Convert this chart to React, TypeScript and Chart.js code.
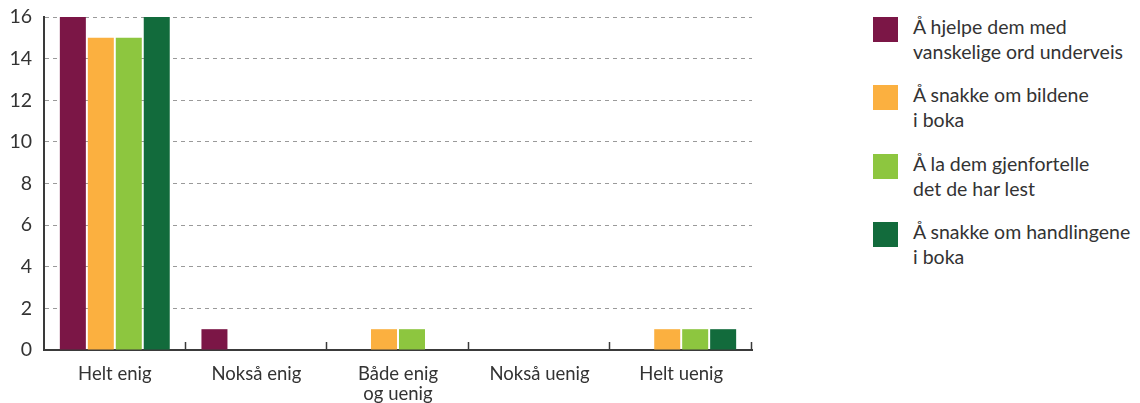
import React, { useEffect, useRef } from "react";
import { Chart, registerables } from "chart.js";

Chart.register(...registerables);

const categories: (string | string[])[] = [
  "Helt enig",
  "Nokså enig",
  ["Både enig", "og uenig"],
  "Nokså uenig",
  "Helt uenig",
];
const seriesNames: string[] = [
  "Å hjelpe dem med\nvanskelige ord underveis",
  "Å snakke om bildene\ni boka",
  "Å la dem gjenfortelle\ndet de har lest",
  "Å snakke om handlingene\ni boka",
];
const hjelpeOrd: number[] = [16, 1, 0, 0, 0];
const snakkeBilder: number[] = [15, 0, 1, 0, 1];
const gjenfortelle: number[] = [15, 0, 1, 0, 1];
const snakkeHandling: number[] = [16, 0, 0, 0, 1];
const seriesColors: string[] = ["#7B1646", "#FBB040", "#8DC63F", "#126B3C"];
const yTicks: number[] = [0, 2, 4, 6, 8, 10, 12, 14, 16];

const FONT = "Lato";
const TEXT = "#333333";
const FS = 19.5;

const innerTicks = {
  id: "innerTicks",
  afterDraw(chart: any) {
    const x = chart.scales.x;
    const ctx = chart.ctx;
    const n = categories.length;
    const w = (x.right - x.left) / n;
    ctx.save();
    ctx.strokeStyle = "#3a3a3a";
    ctx.lineWidth = 1.5;
    for (let i = 1; i <= n; i++) {
      const px = Math.round(x.left + i * w) - 0.5;
      ctx.beginPath();
      ctx.moveTo(px, x.top);
      ctx.lineTo(px, x.top - 8);
      ctx.stroke();
    }
    ctx.restore();
  },
};

export default function App() {
  const ref = useRef<HTMLCanvasElement | null>(null);
  useEffect(() => {
    if (!ref.current) return;
    const data = [hjelpeOrd, snakkeBilder, gjenfortelle, snakkeHandling];
    const chart = new Chart(ref.current, {
      type: "bar",
      data: {
        labels: categories,
        datasets: data.map((d, i) => ({
          label: seriesNames[i],
          data: d,
          backgroundColor: seriesColors[i],
          borderWidth: 0,
          categoryPercentage: 0.79,
          barPercentage: 0.93,
        })),
      },
      plugins: [innerTicks],
      options: {
        animation: false,
        responsive: false,
        maintainAspectRatio: false,
        layout: { padding: { top: 17, right: 8, left: 0, bottom: 0 } },
        plugins: { legend: { display: false }, tooltip: { enabled: false } },
        scales: {
          x: {
            grid: { display: false, drawTicks: false },
            border: { display: true, color: "#3a3a3a", width: 2 },
            ticks: {
              color: TEXT,
              font: { family: FONT, size: 18.5, lineHeight: 1.1 },
              padding: 14,
              maxRotation: 0,
              autoSkip: false,
            },
            afterFit: (s: any) => {
              s.height = 53;
            },
          },
          y: {
            min: 0,
            max: 16,
            afterBuildTicks: (s: any) => {
              s.ticks = yTicks.map((v) => ({ value: v }));
            },
            grid: {
              color: (c: any) => (c.tick && c.tick.value === 0 ? "rgba(0,0,0,0)" : "#9a9a9a"),
              drawTicks: false,
              lineWidth: 1,
            },
            border: { display: true, color: "#3a3a3a", width: 2, dash: [4, 4] },
            ticks: {
              color: TEXT,
              font: { family: FONT, size: FS, lineHeight: 1 },
              padding: 12,
            },
            afterFit: (s: any) => {
              s.width = 44;
              s.paddingTop = 0;
            },
          },
        },
      },
    });
    return () => chart.destroy();
  }, []);

  return (
    <div
      style={{
        position: "fixed",
        left: 0,
        top: 0,
        width: 1140,
        height: 403,
        background: "#fff",
        overflow: "hidden",
        fontFamily: FONT,
      }}
    >
      <canvas
        ref={ref}
        width={760}
        height={403}
        style={{ position: "absolute", left: 0, top: 0, width: 760, height: 403 }}
      />
      {seriesNames.map((name, i) => (
        <div key={i}>
          <div
            style={{
              position: "absolute",
              left: 873,
              top: 17 + i * 68.3,
              width: 25,
              height: 25,
              background: seriesColors[i],
            }}
          />
          <div
            style={{
              position: "absolute",
              left: 913,
              top: 14 + i * 68.3,
              fontSize: FS,
              lineHeight: "25px",
              color: TEXT,
              whiteSpace: "pre",
            }}
          >
            {name}
          </div>
        </div>
      ))}
    </div>
  );
}
